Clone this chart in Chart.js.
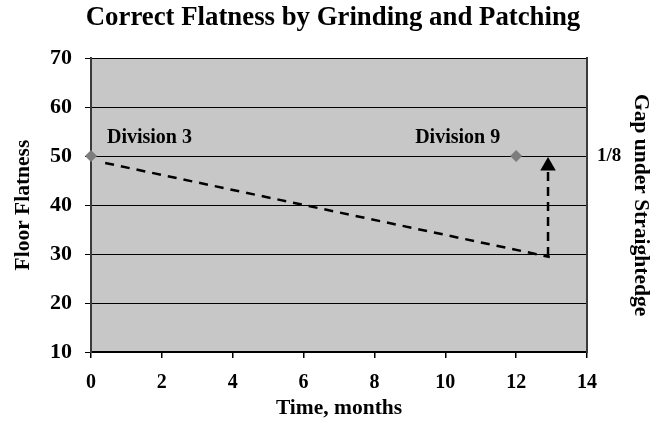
<!DOCTYPE html>
<html>
<head>
<meta charset="utf-8">
<script src="https://cdn.jsdelivr.net/npm/chart.js@4.4.1/dist/chart.umd.min.js"></script>
<style>
html,body{margin:0;padding:0;background:#fff;}
#wrap{width:666px;height:421px;}
</style>
</head>
<body>
<div id="wrap"><canvas id="c" width="666" height="421"></canvas></div>
<script>
// ---- data ----
const divisionMonths = [0, 12];
const divisionFlatness = [50, 50];
const trendMonths = [0.4, 12.95];
const trendFlatness = [48.6, 29.4];
const arrowMonths = [12.9, 12.9];
const arrowFlatness = [29.6, 48.0];
const xTickValues = [0, 2, 4, 6, 8, 10, 12, 14];
const yTickValues = [10, 20, 30, 40, 50, 60, 70];
const rightTickValues = [50];
const rightTickLabels = ['1/8'];
const noteTexts = ['Division 3', 'Division 9'];
const noteMonths = [0.45, 9.15];
const noteFlatness = [52.6, 52.6];

const SERIF = '"Liberation Serif", "Times New Roman", serif';

const toPts = (xs, ys) => xs.map((x, i) => ({x: x, y: ys[i]}));

const bgPlugin = {
  id: 'plotBg',
  beforeDraw(chart) {
    const {ctx, chartArea: a} = chart;
    ctx.save();
    ctx.fillStyle = '#c7c7c7';
    ctx.fillRect(a.left, a.top, a.right - a.left, a.bottom - a.top);
    ctx.restore();
  }
};

const notePlugin = {
  id: 'notes',
  afterDatasetsDraw(chart) {
    const {ctx, scales} = chart;
    ctx.save();
    ctx.font = 'bold 20px ' + SERIF;
    ctx.fillStyle = '#000';
    ctx.textAlign = 'left';
    ctx.textBaseline = 'alphabetic';
    noteTexts.forEach((t, i) => {
      ctx.fillText(t, scales.x.getPixelForValue(noteMonths[i]), scales.y.getPixelForValue(noteFlatness[i]));
    });
    ctx.restore();
  }
};

new Chart(document.getElementById('c'), {
  type: 'scatter',
  data: {
    datasets: [
      {
        data: toPts(trendMonths, trendFlatness),
        showLine: true,
        borderColor: '#000',
        borderWidth: 2.5,
        borderDash: [9, 7],
        pointRadius: 0,
        fill: false
      },
      {
        data: toPts(arrowMonths, arrowFlatness),
        showLine: true,
        borderColor: '#000',
        borderWidth: 2.5,
        borderDash: [9, 6],
        pointStyle: 'triangle',
        pointRadius: [0, 9],
        pointBackgroundColor: '#000',
        pointBorderColor: '#000',
        pointBorderWidth: 0,
        fill: false
      },
      {
        data: toPts(divisionMonths, divisionFlatness),
        showLine: false,
        clip: false,
        pointStyle: 'rectRot',
        pointRadius: 6,
        pointBackgroundColor: '#7d7d7d',
        pointBorderColor: '#7d7d7d',
        pointBorderWidth: 0
      }
    ]
  },
  options: {
    responsive: false,
    animation: false,
    events: [],
    layout: {padding: {top: 0, right: 0, bottom: 0, left: 0}},
    plugins: {
      legend: {display: false},
      tooltip: {enabled: false},
      title: {
        display: true,
        text: 'Correct Flatness by Grinding and Patching',
        color: '#000',
        font: {family: SERIF, size: 26.8, weight: 'bold'},
        padding: {top: 2, bottom: 24}
      }
    },
    scales: {
      x: {
        type: 'linear',
        min: 0, max: 14,
        afterBuildTicks(s) { s.ticks = xTickValues.map(v => ({value: v})); },
        afterFit(s) { s.height = 69; },
        ticks: {color: '#000', font: {family: SERIF, size: 20, weight: 'bold'}, padding: 13, maxRotation: 0},
        grid: {drawOnChartArea: false, drawTicks: true, tickLength: 6, color: '#000', lineWidth: 1.5},
        border: {display: true, color: '#000', width: 2},
        title: {display: true, text: 'Time, months', color: '#000', font: {family: SERIF, size: 21.5, weight: 'bold'}, padding: {top: 0, bottom: 0}}
      },
      y: {
        type: 'linear',
        position: 'left',
        min: 10, max: 70,
        afterBuildTicks(s) { s.ticks = yTickValues.map(v => ({value: v})); },
        afterFit(s) { s.width = 91; },
        ticks: {color: '#000', font: {family: SERIF, size: 22, weight: 'bold'}, padding: 13},
        grid: {color: '#000', lineWidth: 1, drawTicks: true, tickLength: 6},
        border: {display: true, color: '#3a3a3a', width: 2},
        title: {display: true, text: 'Floor Flatness', color: '#000', font: {family: SERIF, size: 21.5, weight: 'bold'}, padding: {top: 11, bottom: 0}}
      },
      y2: {
        type: 'linear',
        position: 'right',
        min: 10, max: 70,
        afterBuildTicks(s) { s.ticks = rightTickValues.map(v => ({value: v})); },
        afterFit(s) { s.width = 79; },
        ticks: {
          color: '#000', font: {family: SERIF, size: 19, weight: 'bold'}, padding: 10,
          callback(v) { const i = rightTickValues.indexOf(v); return i >= 0 ? rightTickLabels[i] : ''; }
        },
        grid: {drawOnChartArea: false, drawTicks: false},
        border: {display: true, color: '#3a3a3a', width: 2},
        title: {display: true, text: 'Gap under Straightedge', color: '#000', font: {family: SERIF, size: 21.5, weight: 'bold'}, padding: {top: 13, bottom: 0}}
      }
    }
  },
  plugins: [bgPlugin, notePlugin]
});
</script>
</body>
</html>
